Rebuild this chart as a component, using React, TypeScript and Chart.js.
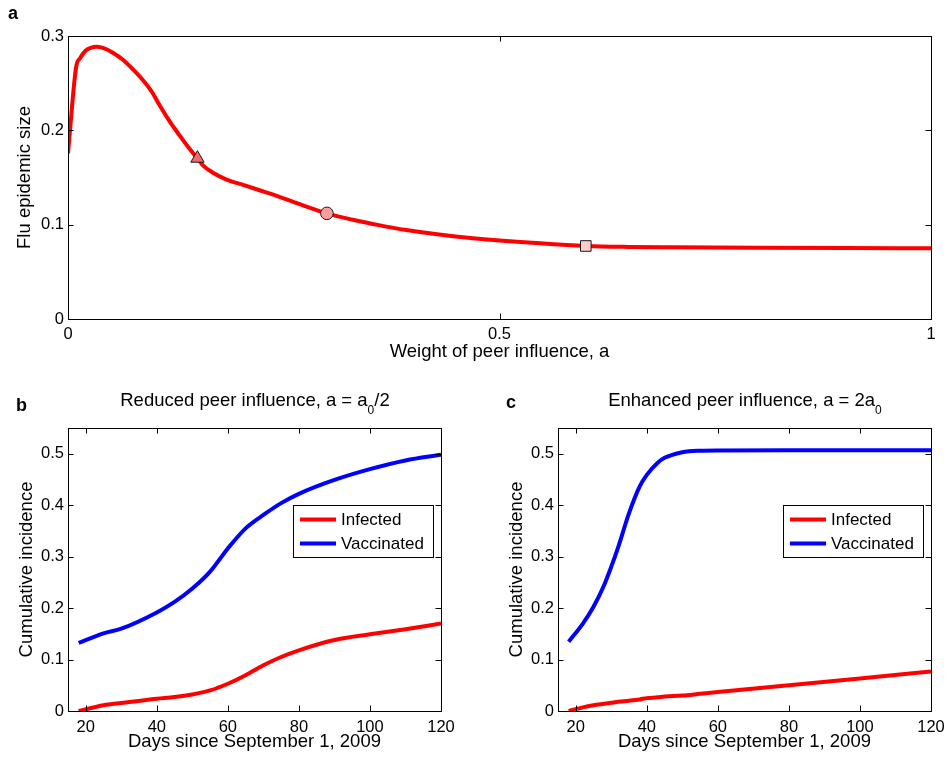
import React, { useEffect, useRef } from 'react';
import { Chart, registerables } from 'chart.js';

Chart.register(...registerables);

const FONT = '"Liberation Sans", Arial, Helvetica, sans-serif';

// ---------- Panel a: epidemic size vs weight of peer influence ----------
const peerWeight = [0, 0.0095, 0.014, 0.02, 0.027, 0.033, 0.042, 0.052, 0.064, 0.073, 0.085, 0.097, 0.106, 0.118, 0.129, 0.139, 0.15, 0.156, 0.168, 0.183, 0.203, 0.222, 0.245, 0.27, 0.3, 0.33, 0.36, 0.392, 0.43, 0.469, 0.547, 0.6, 0.65, 0.7, 0.8, 0.9, 1.0];
const epidemicSize = [0.1757, 0.2675, 0.2764, 0.2841, 0.2876, 0.2887, 0.287, 0.2823, 0.2746, 0.2668, 0.2552, 0.241, 0.2268, 0.2092, 0.195, 0.1826, 0.1703, 0.1632, 0.1551, 0.1481, 0.1422, 0.1365, 0.1295, 0.1213, 0.112, 0.1052, 0.0995, 0.0943, 0.0895, 0.0857, 0.0802, 0.0774, 0.0764, 0.076, 0.0755, 0.0752, 0.075];
const markerWeight = [0.15, 0.3, 0.6];
const markerSize = [0.1703, 0.112, 0.0774];
const weightTicks = [0, 0.5, 1];
const sizeTicks = [0, 0.1, 0.2, 0.3];

// ---------- Panel b: reduced peer influence ----------
const daysB = [18, 25, 30, 40, 45, 50, 55, 60, 65, 70, 75, 80, 90, 100, 110, 120];
const infectedB = [0, 0.011, 0.0156, 0.024, 0.027, 0.032, 0.04, 0.053, 0.0695, 0.089, 0.105, 0.118, 0.138, 0.149, 0.159, 0.17];
const vaccinatedB = [0.1325, 0.151, 0.16, 0.1916, 0.212, 0.238, 0.271, 0.316, 0.355, 0.381, 0.404, 0.422, 0.449, 0.47, 0.487, 0.498];

// ---------- Panel c: enhanced peer influence ----------
const daysC = [18, 22, 25, 28, 30, 32, 35, 38, 40, 43, 45, 50, 55, 60, 80, 100, 120];
const infectedC = [0, 0.007, 0.011, 0.014, 0.016, 0.018, 0.02, 0.0225, 0.025, 0.0265, 0.028, 0.03, 0.0335, 0.037, 0.05, 0.063, 0.077];
const vaccinatedC = [0.1345, 0.17, 0.2026, 0.245, 0.2805, 0.3196, 0.3845, 0.4365, 0.459, 0.482, 0.492, 0.503, 0.506, 0.5065, 0.5066, 0.5066, 0.5066];

const dayTicks = [20, 40, 60, 80, 100, 120];
const incidenceTicks = [0, 0.1, 0.2, 0.3, 0.4, 0.5];
const seriesNames = ['Infected', 'Vaccinated'];

// ---------- plugins ----------
const framePlugin = {
  id: 'frame',
  afterDatasetsDraw(chart: any, _args: any, opts: any) {
    const { ctx, chartArea, scales } = chart;
    const { left, right, top, bottom } = chartArea;
    const L = (opts && opts.tickLen) || 5.5;
    ctx.save();
    ctx.strokeStyle = '#000';
    ctx.lineWidth = 1;
    ctx.beginPath();
    scales.x.ticks.forEach((t: any) => {
      const px = Math.round(scales.x.getPixelForValue(t.value)) + 0.5;
      ctx.moveTo(px, bottom);
      ctx.lineTo(px, bottom - L);
      ctx.moveTo(px, top);
      ctx.lineTo(px, top + L);
    });
    scales.y.ticks.forEach((t: any) => {
      const py = Math.round(scales.y.getPixelForValue(t.value)) + 0.5;
      ctx.moveTo(left, py);
      ctx.lineTo(left + L, py);
      ctx.moveTo(right, py);
      ctx.lineTo(right - L, py);
    });
    ctx.stroke();
    ctx.strokeRect(Math.round(left) + 0.5, Math.round(top) + 0.5, Math.round(right - left), Math.round(bottom - top));
    ctx.restore();
  },
};

const boxLegendPlugin = {
  id: 'boxLegend',
  afterDraw(chart: any, _args: any, opts: any) {
    if (!opts || !opts.display) return;
    const { ctx, chartArea } = chart;
    const items = chart.data.datasets.filter((d: any) => d.label);
    ctx.save();
    ctx.font = `${opts.fontSize}px ${FONT}`;
    const lineLen = 36, padL = 7, gap = 5, padR = 9, rowH = 24, h = 52;
    const textW = Math.max(...items.map((d: any) => ctx.measureText(d.label).width));
    const w = Math.round(padL + lineLen + gap + textW + padR);
    const right = Math.round(chartArea.right - opts.offsetRight);
    const left = right - w;
    const top = Math.round(chartArea.top + opts.offsetTop);
    ctx.fillStyle = '#fff';
    ctx.fillRect(left, top, w, h);
    ctx.strokeStyle = '#000';
    ctx.lineWidth = 1;
    ctx.strokeRect(left + 0.5, top + 0.5, w, h);
    items.forEach((d: any, i: number) => {
      const cy = top + 14.5 + i * rowH;
      ctx.strokeStyle = d.borderColor;
      ctx.lineWidth = d.borderWidth;
      ctx.beginPath();
      ctx.moveTo(left + padL, cy);
      ctx.lineTo(left + padL + lineLen, cy);
      ctx.stroke();
      ctx.fillStyle = '#000';
      ctx.textBaseline = 'middle';
      ctx.textAlign = 'left';
      ctx.fillText(d.label, left + padL + lineLen + gap, cy + 1);
    });
    ctx.restore();
  },
};

// ---------- helpers ----------
function axis(o: {
  min: number; max: number; ticks: number[]; fit: number; title: string;
  titlePad: number; tickPad: number; horizontal: boolean;
}) {
  return {
    type: 'linear',
    min: o.min,
    max: o.max,
    grid: { display: false, drawTicks: false },
    border: { display: false },
    afterBuildTicks: (s: any) => {
      s.ticks = o.ticks.map((v) => ({ value: v }));
    },
    afterFit: (s: any) => {
      if (o.horizontal) s.height = o.fit;
      else s.width = o.fit;
      s.paddingLeft = 0;
      s.paddingRight = 0;
      s.paddingTop = 0;
      s.paddingBottom = 0;
    },
    ticks: {
      color: '#000',
      font: { size: 16.5, family: FONT },
      padding: o.tickPad,
      autoSkip: false,
      maxRotation: 0,
      minRotation: 0,
      callback: (v: any) => String(v),
    },
    title: {
      display: true,
      text: o.title,
      color: '#000',
      font: { size: 18.5, family: FONT },
      padding: o.horizontal ? { top: 0, bottom: o.titlePad } : { top: o.titlePad, bottom: 0 },
    },
  };
}

const pts = (xs: number[], ys: number[]) => xs.map((x, i) => ({ x, y: ys[i] }));

function buildA() {
  const marker = (i: number, style: string, r: number, fill: string) => ({
    data: [{ x: markerWeight[i], y: markerSize[i] }],
    showLine: false,
    pointStyle: style,
    pointRadius: r,
    pointBackgroundColor: fill,
    pointBorderColor: '#1a1a1a',
    pointBorderWidth: 1,
  });
  return {
    type: 'line',
    data: {
      datasets: [
        marker(0, 'triangle', 7.7, '#f26a6a'),
        marker(1, 'circle', 6.3, '#ff9c9c'),
        marker(2, 'rect', 7.5, '#ffcccc'),
        {
          data: pts(peerWeight, epidemicSize),
          borderColor: '#ff0000',
          borderWidth: 4,
          pointRadius: 0,
          cubicInterpolationMode: 'monotone',
          fill: false,
        },
      ],
    },
    options: {
      responsive: false,
      animation: false,
      devicePixelRatio: 1,
      events: [],
      layout: { padding: { left: 0, top: 36, right: 16, bottom: 0 } },
      plugins: { legend: { display: false }, tooltip: { enabled: false }, frame: { tickLen: 5.5 } },
      scales: {
        x: axis({ min: 0, max: 1, ticks: weightTicks, fit: 51, title: 'Weight of peer influence, a', titlePad: 7, tickPad: 6, horizontal: true }),
        y: axis({ min: 0, max: 0.3, ticks: sizeTicks, fit: 68, title: 'Flu epidemic size', titlePad: 14, tickPad: 4, horizontal: false }),
      },
    },
    plugins: [framePlugin],
  };
}

function buildBC(days: number[], inf: number[], vac: number[], yFit: number, yTitlePad: number, rightPad: number) {
  const line = (i: number, ys: number[], color: string) => ({
    label: seriesNames[i],
    data: pts(days, ys),
    borderColor: color,
    borderWidth: 4,
    pointRadius: 0,
    cubicInterpolationMode: 'monotone',
    fill: false,
  });
  return {
    type: 'line',
    data: {
      datasets: [line(0, inf, '#ff0000'), line(1, vac, '#0000ff')],
    },
    options: {
      responsive: false,
      animation: false,
      devicePixelRatio: 1,
      events: [],
      layout: { padding: { left: 0, top: 58, right: rightPad, bottom: 0 } },
      plugins: {
        legend: { display: false },
        tooltip: { enabled: false },
        frame: { tickLen: 5.5 },
        boxLegend: { display: true, fontSize: 17, offsetRight: 8, offsetTop: 77 },
      },
      scales: {
        x: axis({ min: 15, max: 120, ticks: dayTicks, fit: 47, title: 'Days since September 1, 2009', titlePad: 5, tickPad: 7, horizontal: true }),
        y: axis({ min: 0, max: 0.55, ticks: incidenceTicks, fit: yFit, title: 'Cumulative incidence', titlePad: yTitlePad, tickPad: 4, horizontal: false }),
      },
    },
    plugins: [framePlugin, boxLegendPlugin],
  };
}

function ChartCanvas(props: { left: number; top: number; width: number; height: number; build: () => any }) {
  const ref = useRef<HTMLCanvasElement>(null);
  useEffect(() => {
    const chart = new Chart(ref.current as HTMLCanvasElement, props.build());
    return () => chart.destroy();
  }, []);
  return (
    <canvas
      ref={ref}
      width={props.width}
      height={props.height}
      style={{ position: 'absolute', left: props.left, top: props.top, width: props.width, height: props.height, display: 'block' }}
    />
  );
}

const letterStyle: React.CSSProperties = {
  position: 'absolute',
  fontFamily: FONT,
  fontWeight: 'bold',
  fontSize: 18,
  lineHeight: '18px',
  color: '#000',
};

const titleStyle: React.CSSProperties = {
  position: 'absolute',
  width: 400,
  textAlign: 'center',
  whiteSpace: 'nowrap',
  fontFamily: FONT,
  fontSize: 18.5,
  lineHeight: '18px',
  color: '#000',
};

const subStyle: React.CSSProperties = { fontSize: 12, position: 'relative', top: 8 };

export default function App() {
  return (
    <div style={{ position: 'absolute', left: 0, top: 0, width: 947, height: 758, background: '#fff', overflow: 'hidden' }}>
      <ChartCanvas left={0} top={0} width={947} height={370} build={buildA} />
      <ChartCanvas left={0} top={370} width={474} height={388} build={() => buildBC(daysB, infectedB, vaccinatedB, 68, 16, 33)} />
      <ChartCanvas left={474} top={370} width={473} height={388} build={() => buildBC(daysC, infectedC, vaccinatedC, 84, 32, 16)} />
      <div style={{ ...letterStyle, left: 8, top: 4 }}>a</div>
      <div style={{ ...letterStyle, left: 16, top: 396 }}>b</div>
      <div style={{ ...letterStyle, left: 506, top: 393 }}>c</div>
      <div style={{ ...titleStyle, left: 255 - 200, top: 391 }}>
        Reduced peer influence, a = a<span style={subStyle}>0</span>/2
      </div>
      <div style={{ ...titleStyle, left: 745 - 200, top: 391 }}>
        Enhanced peer influence, a = 2a<span style={subStyle}>0</span>
      </div>
    </div>
  );
}
